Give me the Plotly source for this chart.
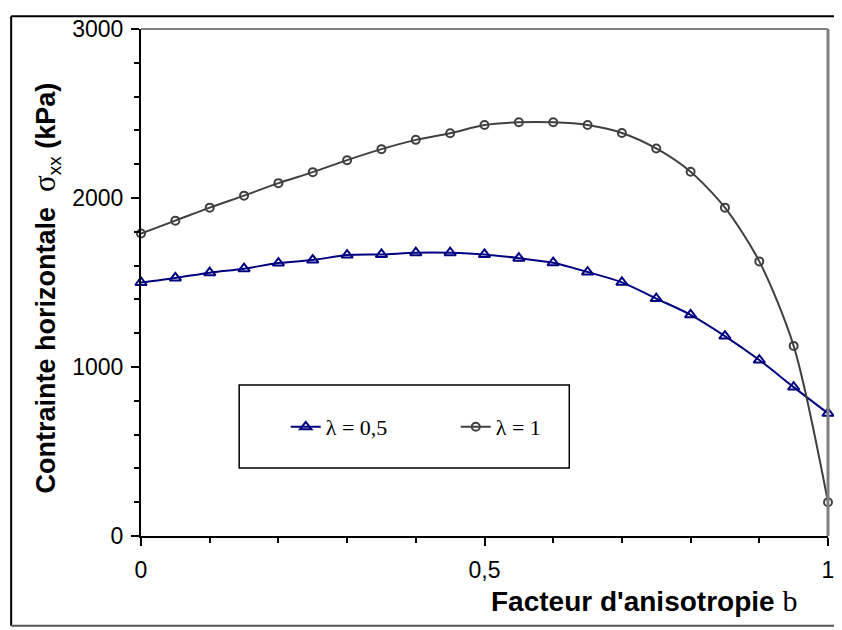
import plotly.graph_objects as go

# facteur d'anisotropie b
b = [0, 0.05, 0.1, 0.15, 0.2, 0.25, 0.3, 0.35, 0.4, 0.45, 0.5,
     0.55, 0.6, 0.65, 0.7, 0.75, 0.8, 0.85, 0.9, 0.95, 1]

# contrainte horizontale sigma_xx (kPa)
sxx_lambda_05 = [1500, 1527, 1558, 1582, 1615, 1633, 1662, 1666, 1676, 1676, 1666,
                 1644, 1617, 1562, 1501, 1405, 1309, 1183, 1041, 881, 726]
sxx_lambda_1 = [1790, 1866, 1943, 2014, 2088, 2153, 2224, 2289, 2344, 2383, 2432,
                2448, 2448, 2432, 2385, 2293, 2155, 1943, 1625, 1125, 200]

names = ["\u03bb = 0,5", "\u03bb = 1"]
x_tickvals = [0, 0.5, 1]
x_ticktext = ["0", "0,5", "1"]
y_tickvals = [0, 1000, 2000, 3000]
y_ticktext = ["0", "1000", "2000", "3000"]

fig = go.Figure()
fig.add_trace(go.Scatter(
    x=b, y=sxx_lambda_05, name=names[0], mode='lines+markers',
    line=dict(color='#000080', width=2, shape='spline', smoothing=0.8),
    marker=dict(symbol='triangle-up-open', size=10, color='#000080',
                line=dict(width=2)),
    cliponaxis=False))
fig.add_trace(go.Scatter(
    x=b, y=sxx_lambda_1, name=names[1], mode='lines+markers',
    line=dict(color='#404040', width=2, shape='spline', smoothing=0.8),
    marker=dict(symbol='circle-open', size=8, color='#404040',
                line=dict(width=2)),
    cliponaxis=False))

shapes = [
    # cadre exterieur (haut, gauche, bas)
    dict(type='line', xref='paper', yref='paper', x0=-0.189, x1=1.02,
         y0=1.0253, y1=1.0253, line=dict(color='black', width=2)),
    dict(type='line', xref='paper', yref='paper', x0=-0.189, x1=-0.189,
         y0=-0.177, y1=1.0253, line=dict(color='black', width=2)),
    dict(type='line', xref='paper', yref='paper', x0=-0.189, x1=1.02,
         y0=-0.177, y1=-0.177, line=dict(color='#555555', width=2)),
    # bords haut / droit du graphe en gris
    dict(type='line', xref='paper', yref='paper', x0=0, x1=1, y0=1, y1=1,
         line=dict(color='#808080', width=2)),
    dict(type='line', xref='paper', yref='paper', x0=1, x1=1, y0=0, y1=1,
         line=dict(color='#808080', width=3)),
    # cadre de legende
    dict(type='rect', xref='paper', yref='paper', x0=0.1429, x1=0.6234,
         y0=0.1342, y1=0.2977, line=dict(color='black', width=1.5),
         fillcolor='white', layer='below'),
]

annotations = [
    dict(xref='paper', yref='paper', x=-0.1385, y=0.49, textangle=-90,
         showarrow=False, xanchor='center', yanchor='middle',
         text="<b>Contrainte horizontale </b> <span style='font-family:Liberation Serif;font-size:31px'>\u03c3</span><sub>xx</sub><b> (kPa)</b>",
         font=dict(family='Liberation Sans, Arial', size=27, color='black')),
    dict(xref='paper', yref='paper', x=0.958, y=-0.1265,
         showarrow=False, xanchor='right', yanchor='middle',
         text="<b>Facteur d'anisotropie </b><span style='font-family:Liberation Serif;font-size:30px'>b</span>",
         font=dict(family='Liberation Sans, Arial', size=28, color='black')),
]

fig.update_layout(
    width=834, height=622,
    margin=dict(l=133, r=8, t=14, b=94),
    paper_bgcolor='white', plot_bgcolor='white',
    font=dict(family='Liberation Sans, Arial', size=23, color='black'),
    showlegend=True,
    legend=dict(orientation='h', x=0.2107, y=0.215, xanchor='left', yanchor='middle',
                bgcolor='rgba(0,0,0,0)', borderwidth=0,
                entrywidth=125, entrywidthmode='pixels',
                font=dict(family='Liberation Serif', size=22, color='black')),
    xaxis=dict(range=[0, 1], tickvals=x_tickvals, ticktext=x_ticktext,
               showgrid=False, zeroline=False, showline=True,
               linecolor='black', linewidth=2, ticks='outside', ticklen=8,
               tickwidth=2, tickcolor='black', ticklabelstandoff=4,
               minor=dict(dtick=0.1, ticks='outside', ticklen=5,
                          tickcolor='black', tickwidth=1.5)),
    yaxis=dict(range=[0, 3000], tickvals=y_tickvals, ticktext=y_ticktext,
               showgrid=False, zeroline=False, showline=True,
               linecolor='black', linewidth=2, ticks='outside', ticklen=8,
               tickwidth=2, tickcolor='black', ticklabelstandoff=3,
               minor=dict(dtick=200, ticks='outside', ticklen=5,
                          tickcolor='black', tickwidth=1.5)),
    shapes=shapes,
    annotations=annotations,
)

fig.write_html("out.html")
